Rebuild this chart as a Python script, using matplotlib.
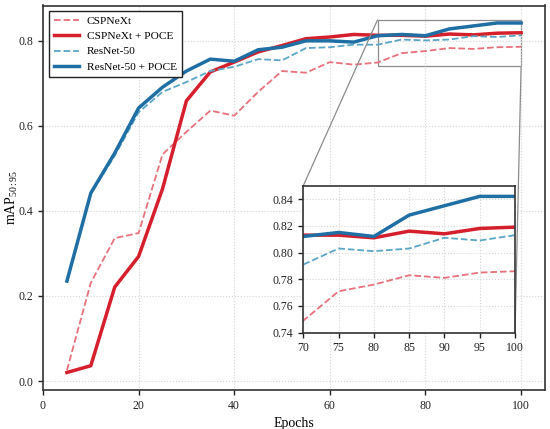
import matplotlib
matplotlib.use("Agg")
import matplotlib.pyplot as plt
from mpl_toolkits.axes_grid1.inset_locator import mark_inset

plt.rcParams['font.family'] = ['Liberation Serif', 'DejaVu Serif']
plt.rcParams['mathtext.fontset'] = 'custom'
plt.rcParams['mathtext.rm'] = 'Liberation Serif'
plt.rcParams['mathtext.it'] = 'Liberation Serif:italic'
plt.rcParams['font.size'] = 8

epochs = [5, 10, 15, 20, 25, 30, 35, 40, 45, 50, 55, 60, 65, 70, 75, 80, 85, 90, 95, 100]

cspnext = [0.025, 0.231, 0.336, 0.348, 0.533, 0.586, 0.636, 0.624, 0.680, 0.729, 0.725, 0.750, 0.744,
           0.749, 0.771, 0.776, 0.783, 0.781, 0.785, 0.786]
cspnext_poce = [0.020, 0.036, 0.221, 0.293, 0.452, 0.659, 0.727, 0.750, 0.774, 0.789, 0.805, 0.809, 0.815,
                0.813, 0.813, 0.811, 0.816, 0.814, 0.818, 0.819]
resnet = [0.232, 0.440, 0.530, 0.632, 0.680, 0.703, 0.729, 0.739, 0.757, 0.754, 0.783, 0.785, 0.791,
          0.791, 0.803, 0.801, 0.803, 0.811, 0.809, 0.813]
resnet_poce = [0.235, 0.442, 0.536, 0.642, 0.691, 0.729, 0.757, 0.752, 0.779, 0.785, 0.800, 0.800, 0.797,
               0.812, 0.815, 0.812, 0.828, 0.835, 0.842, 0.842]

labels = ['CSPNeXt', 'CSPNeXt + POCE', 'ResNet-50', 'ResNet-50 + POCE']
series = [cspnext, cspnext_poce, resnet, resnet_poce]
colors = ['#e8717c', '#d61f2c', '#5ba6c6', '#1f6fa5']
styles = ['--', '-', '--', '-']
widths = [1.3, 2.5, 1.3, 2.5]

x_ticks_main = [0, 20, 40, 60, 80, 100]
y_ticks_main = [0.0, 0.2, 0.4, 0.6, 0.8]
x_ticks_inset = [70, 75, 80, 85, 90, 95, 100]
y_ticks_inset = [0.74, 0.76, 0.78, 0.80, 0.82, 0.84]

fig = plt.figure(figsize=(5.5, 4.29), dpi=100)
ax = fig.add_axes([43/550, 1-390/429, 502/550, 384.5/429])

for vals, lab, c, ls, lw in zip(series, labels, colors, styles, widths):
    ax.plot(epochs, vals, ls, color=c, lw=lw, label=lab)

ax.set_xlim(0, 105)
ax.set_xticks(x_ticks_main)
ax.set_yticks(y_ticks_main)
ax.set_yticklabels([f'{v:.1f}' for v in y_ticks_main])
ax.set_xlabel('Epochs', fontsize=10)
ax.set_ylabel(r'mAP$_{\mathrm{50:95}}$', fontsize=10, labelpad=-1)
ax.grid(True, ls=':', color='#d5d5d5', lw=0.8)
for s in ax.spines.values():
    s.set_color('#333333')
    s.set_linewidth(1.2)
ax.tick_params(colors='#222222', direction='out', length=3.5, width=1, labelsize=8.5)

leg = ax.legend(loc='upper left', frameon=True, fancybox=False, edgecolor='#222222',
                framealpha=1, fontsize=8.2, handlelength=2.2, handletextpad=0.7,
                borderpad=0.45, labelspacing=0.45)
leg.get_frame().set_linewidth(1.0)

axins = ax.inset_axes([(303.3-43)/502, (390-332.7)/384.5, (515-303.3)/502, (332.7-185.7)/384.5])
for vals, lab, c, ls, lw in zip(series, labels, colors, styles, widths):
    axins.plot(epochs, vals, ls, color=c, lw=lw)
axins.set_xlim(70, 100)
axins.set_ylim(0.74, 0.85)
axins.set_xticks(x_ticks_inset)
axins.set_yticks(y_ticks_inset)
axins.set_yticklabels([f'{v:.2f}' for v in y_ticks_inset])
axins.grid(True, ls=':', color='#d5d5d5', lw=0.8)
for s in axins.spines.values():
    s.set_color('#333333')
    s.set_linewidth(1.2)
axins.tick_params(colors='#222222', direction='out', length=3.5, width=1, labelsize=8.5)

mark_inset(ax, axins, loc1=2, loc2=4, fc='none', ec='0.55', lw=0.9)

fig.savefig('out.png', dpi=100)
